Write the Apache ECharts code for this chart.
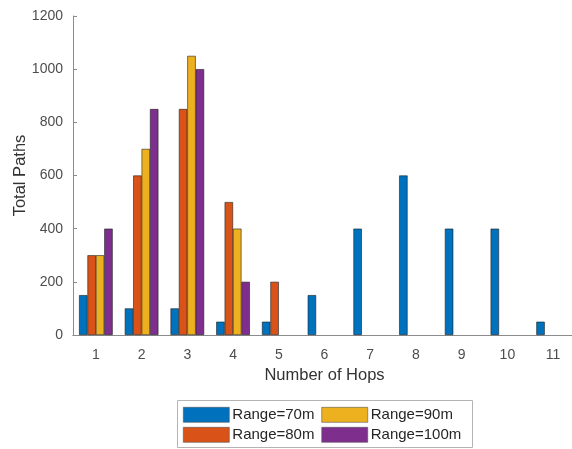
<!DOCTYPE html>
<html>
<head>
<meta charset="utf-8">
<script src="https://cdn.jsdelivr.net/npm/echarts@6/dist/echarts.min.js"></script>
<style>html,body{margin:0;padding:0;background:#fff;}#c{width:572px;height:449px;}</style>
</head>
<body>
<div id="c"></div>
<script>
const hops = ['1','2','3','4','5','6','7','8','9','10','11'];
const range70 = [150,100,100,50,50,150,400,600,400,400,50];
const range80 = [300,600,850,500,200,0,0,0,0,0,0];
const range90 = [300,700,1050,400,0,0,0,0,0,0,0];
const range100 = [400,850,1000,200,0,0,0,0,0,0,0];
const yTicks = [0,200,400,600,800,1000,1200];
const seriesNames = ['Range=70m','Range=80m','Range=90m','Range=100m'];
const colors = ['#0072BD','#D95319','#EDB120','#7E2F8E'];

const font = 'Liberation Sans, Arial, Helvetica, sans-serif';
const axisColor = '#8c8c8c';
const textColor = '#4d4d4d';

const chart = echarts.init(document.getElementById('c'));
const data = [range70, range80, range90, range100];
const legendCommon = {
  orient: 'horizontal', left: 183, icon: 'rect',
  itemWidth: 46, itemHeight: 15, itemGap: 7, padding: 0,
  textStyle: {fontFamily: font, fontSize: 15, color: '#262626', padding: [0,0,0,-2]},
  itemStyle: {borderColor: '#555', borderWidth: 0.6},
  selectedMode: false
};
chart.setOption({
  animation: false,
  backgroundColor: '#fff',
  grid: {left: 73, width: 503, top: 16, bottom: 114, containLabel: false, outerBoundsMode: 'none'},
  xAxis: [{
    type: 'category', data: hops, boundaryGap: true,
    name: 'Number of Hops', nameLocation: 'middle', nameGap: 32, nameMoveOverlap: false,
    nameTextStyle: {fontFamily: font, fontSize: 16.5, color: '#333'},
    axisLine: {lineStyle: {color: axisColor, width: 1}},
    axisTick: {inside: true, alignWithLabel: true, length: 4, lineStyle: {color: axisColor}},
    axisLabel: {fontFamily: font, fontSize: 14, color: textColor, margin: 13},
    splitLine: {show: false}
  },{
    type: 'category', data: hops, boundaryGap: true, position: 'top',
    axisLine: {lineStyle: {color: axisColor, width: 1}},
    axisTick: {inside: true, alignWithLabel: true, length: 4, lineStyle: {color: axisColor}},
    axisLabel: {show: false}
  }],
  yAxis: [{
    type: 'value', min: yTicks[0], max: yTicks[yTicks.length-1], interval: 200,
    name: 'Total Paths', nameLocation: 'middle', nameGap: 44, nameMoveOverlap: false,
    nameTextStyle: {fontFamily: font, fontSize: 16.5, color: '#333'},
    axisLine: {show: true, lineStyle: {color: axisColor, width: 1}},
    axisTick: {show: true, inside: true, length: 4, lineStyle: {color: axisColor}},
    axisLabel: {fontFamily: font, fontSize: 14, color: textColor, margin: 10,
      formatter: v => String(v)},
    splitLine: {show: false}
  },{
    type: 'value', min: yTicks[0], max: yTicks[yTicks.length-1], interval: 200, position: 'right',
    axisLine: {show: true, lineStyle: {color: axisColor, width: 1}},
    axisTick: {show: true, inside: true, length: 4, lineStyle: {color: axisColor}},
    axisLabel: {show: false}, splitLine: {show: false}
  }],
  legend: [
    Object.assign({}, legendCommon, {top: 407, data: [seriesNames[0], seriesNames[2]]}),
    Object.assign({}, legendCommon, {top: 427, data: [seriesNames[1], seriesNames[3]]})
  ],
  graphic: [{
    type: 'rect', shape: {x: 177.5, y: 400.5, width: 295, height: 47},
    style: {fill: 'none', stroke: '#b4b4b4', lineWidth: 1}, z: 0
  }],
  series: seriesNames.map((n, i) => ({
    name: n, type: 'bar', barWidth: 8.4, barGap: '0%',
    data: data[i].map(v => v === 0 ? null : v),
    itemStyle: {color: colors[i], borderColor: '#1e1e1e', borderWidth: 0.6}
  }))
});
</script>
</body>
</html>
